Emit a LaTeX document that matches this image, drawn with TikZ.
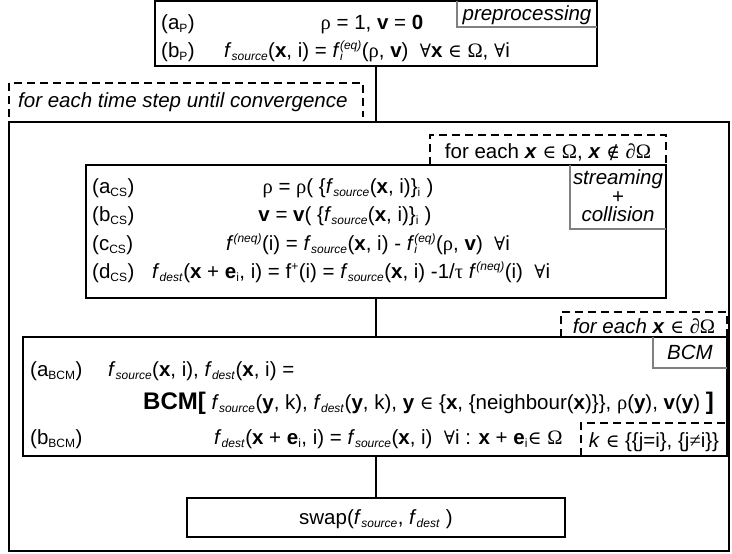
\documentclass[tikz,border=0pt]{standalone}
\usepackage{fontspec}
\setmainfont{Liberation Sans}
\DeclareMathSizes{20.5}{20.5}{12}{9}
\newfontfamily\grkfont{Liberation Serif}
\newfontfamily\mthfont[Scale=0.9]{DejaVu Serif}
\newcommand{\xrho}{{\grkfont ρ}}
\newcommand{\xtau}{{\grkfont τ}}
\newcommand{\xOm}{{\grkfont Ω}}
\newcommand{\xdOm}{{\grkfont ∂Ω}}
\newcommand{\xall}{{\mthfont ∀}}
\newcommand{\xin}{{\mthfont ∈}}
\newcommand{\xnotin}{{\mthfont ∉}}
\newcommand{\xneq}{{\grkfont ≠}}
\newcommand{\fsrc}{\textit{f}\textsubscript{\textit{source}}}
\newcommand{\fdst}{\textit{f}\textsubscript{\textit{dest}}}
\newcommand{\feqi}{\textit{f}\rlap{\textsubscript{\textit{i}}}\textsuperscript{\textit{(eq)}}}
\newcommand{\fneqq}{\textit{f}\textsuperscript{\textit{(neq)}}}
\newcommand{\bcmbig}[1]{{\fontsize{24}{24}\selectfont\textbf{#1}}}
\begin{document}
\begin{tikzpicture}[x=1pt,y=-1pt,
  font=\fontsize{20.5}{24}\selectfont,
  box/.style={draw, line width=2pt, inner sep=0pt, outer sep=0pt, anchor=north west},
  frame/.style={inner sep=0pt, outer sep=0pt},
  tw/.style={inner sep=0pt, anchor=base west},
  tc/.style={inner sep=0pt, anchor=base},
  tagline/.style={draw=black!50, line width=1.5pt},
  dashbox/.style={draw, line width=2pt, dash pattern=on 8pt off 5pt},
  conn/.style={draw, line width=2pt}
]
\path[use as bounding box, fill=white] (0,0) rectangle (732,554);

% outer loop box
\node[box, minimum width=720, minimum height=429] (outer) at (9,122) {};

% preprocessing box
\node[box, minimum width=442, minimum height=65] (top) at (155,1) {};
\node[frame, minimum width=140, minimum height=26, anchor=north east] (prelab) at (top.north east) {};
\draw[tagline] (prelab.north west) -- (prelab.south west) -- (prelab.south east);
\node[tc] (pretxt) at (prelab.center |- 0,20) {\textit{preprocessing}};
\node[tw] (aP) at (161,29) {(a\textsubscript{P})};
\node[tc] (aPeq) at (372,29) {\xrho{} = 1, \textbf{v} = \textbf{0}};
\node[tw] (bP) at (161,57) {(b\textsubscript{P})};
\node[tw] (bPeq) at (224,57) {\fsrc(\textbf{x}, i) = \feqi(\xrho, \textbf{v})\ \ \xall\textbf{x} \xin{} \xOm, \xall i};

\draw[conn] (top.south) -- (top.south |- outer.north);

% time step label
\node[frame, minimum width=354, minimum height=34, anchor=north west] (ts) at (9,83) {};
\draw[dashbox] (ts.south west) -- (ts.north west) -- (ts.north east) -- (ts.south east);
\node[tw] (tstxt) at (18,107) {\textit{for each time step until convergence}};

% streaming + collision box
\node[box, minimum width=580, minimum height=133] (cs) at (86,165) {};
\node[frame, minimum width=236, minimum height=30, anchor=south east] (csl) at (cs.north east) {};
\draw[dashbox] (csl.south west) -- (csl.north west) -- (csl.north east) -- (csl.south east);
\node[tc] (csltxt) at (csl.center |- 0,158) {for each \textbf{\textit{x}} \xin{} \xOm, \textbf{\textit{x}} \xnotin{} \xdOm};
\node[frame, minimum width=96, minimum height=64, anchor=north east] (cslab) at (cs.north east) {};
\draw[tagline] (cslab.north west) -- (cslab.south west) -- (cslab.south east);
\node[tc] (cslab1) at (cslab.center |- 0,184) {\textit{streaming}};
\node[tc] (cslab2) at (cslab.center |- 0,203) {+};
\node[tc] (cslab3) at (cslab.center |- 0,221) {\textit{collision}};

\node[tw] (aCS) at (92,193) {(a\textsubscript{CS})};
\node[tc] (aCSeq) at (348,193) {\xrho{} = \xrho( \{\fsrc(\textbf{x}, i)\}\textsubscript{i} )};
\node[tw] (bCS) at (92,221) {(b\textsubscript{CS})};
\node[tc] (bCSeq) at (345,221) {\textbf{v} = \textbf{v}( \{\fsrc(\textbf{x}, i)\}\textsubscript{i} )};
\node[tw] (cCS) at (92,250) {(c\textsubscript{CS})};
\node[tc] (cCSeq) at (368,250) {\fneqq(i) = \fsrc(\textbf{x}, i) - \feqi(\xrho, \textbf{v})\ \ \xall i};
\node[tw] (dCS) at (92,278) {(d\textsubscript{CS})};
\node[tw] (dCSeq) at (152,278) {\fdst(\textbf{x} + \textbf{e}\textsubscript{i}, i) = f\textsuperscript{+}(i) = \fsrc(\textbf{x}, i) -1/\xtau{} \fneqq(i)\ \ \xall i};

\draw[conn] (cs.south) -- (cs.south |- 0,337);

% BCM box
\node[box, minimum width=704, minimum height=119] (bcm) at (23,337) {};
\node[frame, minimum width=166, minimum height=25, anchor=south east] (bcml) at (bcm.north east) {};
\draw[dashbox] (bcml.south west) -- (bcml.north west) -- (bcml.north east) -- (bcml.south east);
\node[tc] (bcmltxt) at (bcml.center |- 0,333) {\textit{for each \textbf{x}} \xin{} \xdOm};
\node[frame, minimum width=74, minimum height=31, anchor=north east] (bcmlab) at (bcm.north east) {};
\draw[tagline] (bcmlab.north west) -- (bcmlab.south west) -- (bcmlab.south east);
\node[tc] (bcmlabtxt) at (bcmlab.center |- 0,359) {\textit{BCM}};
\node[frame, minimum width=146, minimum height=33, anchor=south east] (kl) at (bcm.south east) {};
\draw[dashbox] (kl.south west) -- (kl.north west) -- (kl.north east);
\node[tc] (kltxt) at (kl.center |- 0,447) {\textit{k} \xin{} \{\{j=i\}, \{j\xneq i\}\}};

\node[tw] (aBCM) at (30,376) {(a\textsubscript{BCM})};
\node[tw] (aBCMeq) at (108,376) {\fsrc(\textbf{x}, i), \fdst(\textbf{x}, i) =};
\node[tw] (BCMrow) at (143,409) {\bcmbig{BCM[} \fsrc(\textbf{y}, k), \fdst(\textbf{y}, k), \textbf{y} \xin{} \{\textbf{x}, \{neighbour(\textbf{x})\}\}, \xrho(\textbf{y}), \textbf{v}(\textbf{y}) \bcmbig{]}};
\node[tw] (bBCM) at (30,444) {(b\textsubscript{BCM})};
\node[tw] (bBCMeq) at (214,444) {\fdst(\textbf{x} + \textbf{e}\textsubscript{i}, i) = \fsrc(\textbf{x}, i)\ \ \xall i : \textbf{x} + \textbf{e}\textsubscript{i}\xin{} \xOm};

% swap box
\node[box, minimum width=378, minimum height=39] (swap) at (187,498) {};
\node[tc] (swaptxt) at (swap.center |- 0,524) {swap(\fsrc, \fdst\ )};

\draw[conn] (swap.north |- bcm.south) -- (swap.north);
\end{tikzpicture}
\end{document}
